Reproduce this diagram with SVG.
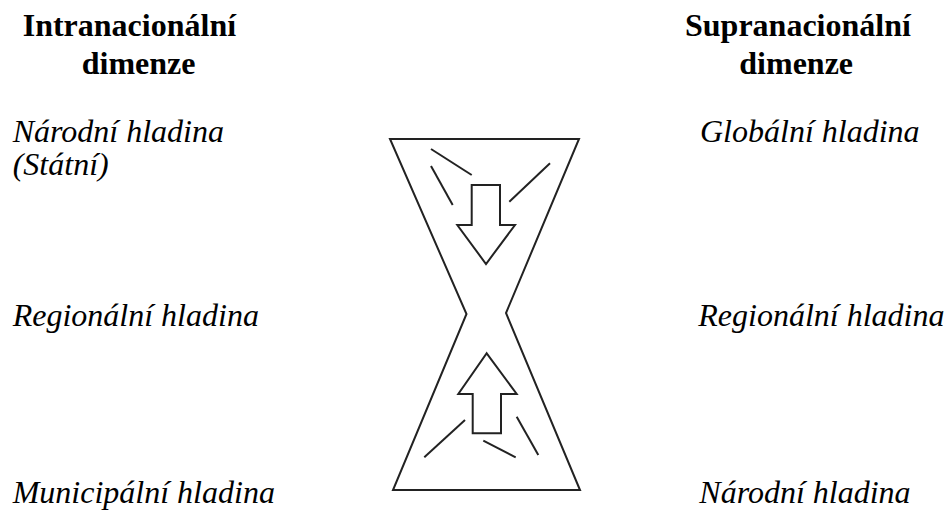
<svg xmlns="http://www.w3.org/2000/svg" width="947" height="510" viewBox="0 0 947 510">
<style>
text{font-family:'Liberation Serif','Times New Roman',Times,serif;font-size:32px;fill:#000}
.h{font-weight:bold}
.l{font-style:italic}
.s{fill:none;stroke:#222;stroke-width:2;stroke-linejoin:miter;stroke-linecap:butt}
</style>
<rect width="947" height="510" fill="#fff"/>
<g id="head-intra"><text class="h" x="22.7" y="36">Intranacionální</text><text class="h" x="81.7" y="74">dimenze</text></g>
<g id="head-supra"><text class="h" x="685" y="36">Supranacionální</text><text class="h" x="739.3" y="74">dimenze</text></g>
<g id="intra-narodni"><text class="l" x="12.7" y="142">Národní hladina</text><text class="l" x="12.7" y="175">(Státní)</text></g>
<g id="intra-regionalni"><text class="l" x="12.7" y="326">Regionální hladina</text></g>
<g id="intra-municipalni"><text class="l" x="12.7" y="503">Municipální hladina</text></g>
<g id="supra-globalni"><text class="l" x="700" y="142">Globální hladina</text></g>
<g id="supra-regionalni"><text class="l" x="698.3" y="326">Regionální hladina</text></g>
<g id="supra-narodni"><text class="l" x="699.3" y="503">Národní hladina</text></g>
<g id="hourglass">
<path class="s" d="M390,139 L579,139 L506,313 L580,490 L393,490 L466.5,314 Z"/>
<line class="s" x1="431" y1="149" x2="471.7" y2="175"/>
<line class="s" x1="431" y1="166" x2="452.7" y2="205"/>
<line class="s" x1="550" y1="163.3" x2="509.3" y2="201.7"/>
<line class="s" x1="465" y1="420" x2="424.3" y2="457.3"/>
<line class="s" x1="483.3" y1="440.7" x2="515.7" y2="457.3"/>
<line class="s" x1="516.7" y1="416.7" x2="538.3" y2="455"/>
</g>
<g id="arrow-down"><path class="s" d="M471.7,185 L500,185 L500,225 L515,225 L486,264 L457.3,225 L471.7,225 Z"/></g>
<g id="arrow-up"><path class="s" d="M486.7,353.3 L516.7,394 L501,394 L501,433.3 L472.7,433.3 L472.7,394 L458.3,394 Z"/></g>
<g id="connectors"></g>
</svg>
